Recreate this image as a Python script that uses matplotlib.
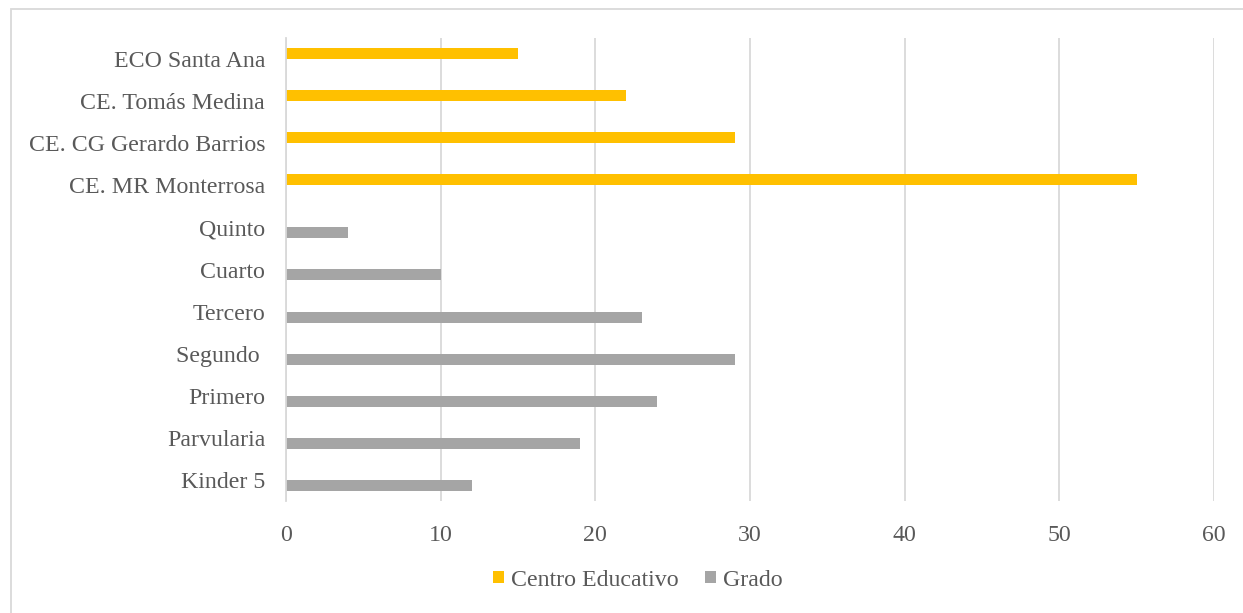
import matplotlib
matplotlib.use("Agg")
import matplotlib.pyplot as plt
import numpy as np
from matplotlib.patches import Rectangle

categories = ["Kinder 5", "Parvularia", "Primero", "Segundo ", "Tercero", "Cuarto", "Quinto",
              "CE. MR Monterrosa", "CE. CG Gerardo Barrios", "CE. Tomás Medina", "ECO Santa Ana"]
centro = [0, 0, 0, 0, 0, 0, 0, 55, 29, 22, 15]
grado = [12, 19, 24, 29, 23, 10, 4, 0, 0, 0, 0]
xticks = [0, 10, 20, 30, 40, 50, 60]

TXT = "#595959"
plt.rcParams['font.family'] = ['Liberation Serif', 'DejaVu Serif']

fig = plt.figure(figsize=(12.43, 6.13), dpi=100)
W, H = 1243, 613
ax = fig.add_axes([286 / W, 1 - 501 / H, (1214 - 286) / W, (501 - 38) / H])

y = np.arange(len(categories))
h = 0.26
ax.barh(y + h / 2, centro, height=h, color="#FFC000", label="Centro Educativo", zorder=3)
ax.barh(y - h / 2, grado, height=h, color="#A5A5A5", label="Grado", zorder=3)

ax.set_ylim(-0.5, len(categories) - 0.5)
ax.set_xlim(0, 60)
ax.set_xticks(xticks)
ax.set_yticks(y)
ax.set_yticklabels(categories)
ax.tick_params(axis="both", length=0, labelsize=17.2, colors=TXT)
ax.tick_params(axis="x", pad=17)
ax.tick_params(axis="y", pad=15)
ax.grid(axis="x", color="#D9D9D9", linewidth=1.3, zorder=0)
for s in ["top", "right", "bottom"]:
    ax.spines[s].set_visible(False)
ax.spines["left"].set_color("#D9D9D9")
ax.spines["left"].set_linewidth(1.3)
ax.spines["left"].set_zorder(4)

leg = fig.legend(loc="center", bbox_to_anchor=(638 / W, 1 - 580 / H), ncol=2, frameon=False,
                 fontsize=17.2, handlelength=0.45, handleheight=0.45, handletextpad=0.3,
                 columnspacing=1.1)
for t in leg.get_texts():
    t.set_color(TXT)

fig.patches.append(Rectangle((11 / W, -0.1), 1.2, 1 - 9 / H + 0.1, transform=fig.transFigure,
                             fill=False, edgecolor="#D9D9D9", linewidth=1.3))

fig.savefig("out.png", dpi=100, facecolor="white")
